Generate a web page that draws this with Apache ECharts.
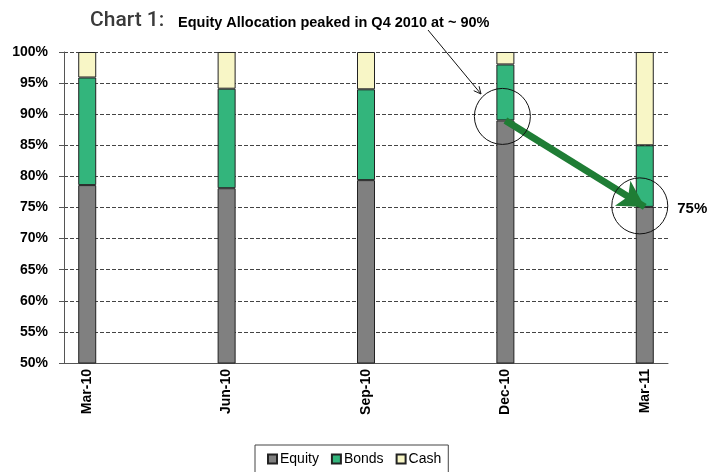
<!DOCTYPE html>
<html><head><meta charset="utf-8">
<script src="https://cdn.jsdelivr.net/npm/echarts@6/dist/echarts.min.js"></script>
<style>html,body{margin:0;padding:0;background:#fff}#c{width:707px;height:472px}</style>
</head><body><div id="c"></div>
<script>
const months = ['Mar-10','Apr-10','May-10','Jun-10','Jul-10','Aug-10','Sep-10','Oct-10','Nov-10','Dec-10','Jan-11','Feb-11','Mar-11'];
const quarters = ['Mar-10','Jun-10','Sep-10','Dec-10','Mar-11'];
const equity = [78.6, 78.1, 79.4, 89.0, 75.1];
const bonds = [17.3, 16.0, 14.6, 9.0, 9.9];
const cash = [4.1, 5.9, 6.0, 2.0, 15.0];
const yTicks = {min: 50, max: 100, step: 5};
const peak = ['Dec-10', 89.0];
const latest = ['Mar-11', 75.1];

function toSlots(vals) {
  return months.map(m => { const i = quarters.indexOf(m); return i < 0 ? '-' : vals[i]; });
}

const chart = echarts.init(document.getElementById('c'), null, {renderer: 'canvas'});
const FONT = 'Liberation Sans, Arial, sans-serif';
const barBorder = {borderColor: '#222', borderWidth: 1};

// thin annotation arrow (pixel annotation)
const a0 = [428, 30], a1 = [481, 94];
const dx = a1[0] - a0[0], dy = a1[1] - a0[1], L = Math.hypot(dx, dy);
const ux = dx / L, uy = dy / L, hl = 8, ang = 0.45;
function rot(x, y, t) { return [x * Math.cos(t) - y * Math.sin(t), x * Math.sin(t) + y * Math.cos(t)]; }
const h1 = rot(-ux * hl, -uy * hl, ang), h2 = rot(-ux * hl, -uy * hl, -ang);

chart.setOption({
  animation: false,
  grid: {left: 64, right: 39, top: 52, bottom: 109, containLabel: false},
  legend: {
    data: ['Equity', 'Bonds', 'Cash'],
    left: 255, top: 445,
    borderColor: '#444', borderWidth: 1, borderRadius: 0,
    padding: [7, 7, 8, 12],
    icon: 'rect', itemWidth: 9, itemHeight: 9, itemGap: 12,
    textStyle: {fontFamily: FONT, fontSize: 14, color: '#000', padding: [0, 0, 0, -2]}
  },
  xAxis: {
    type: 'category', data: months, boundaryGap: true,
    axisLine: {lineStyle: {color: '#555', width: 1}},
    axisTick: {interval: 2, length: 5, lineStyle: {color: '#555'}},
    axisLabel: {interval: 2, rotate: 90, margin: 6, fontFamily: FONT, fontWeight: 'bold', fontSize: 14, color: '#000'},
    splitLine: {show: false}
  },
  yAxis: {
    type: 'value', min: yTicks.min, max: yTicks.max, interval: yTicks.step,
    axisLine: {show: true, lineStyle: {color: '#555', width: 1}},
    axisTick: {show: true, length: 5, lineStyle: {color: '#555'}},
    axisLabel: {formatter: '{value}%', margin: 16, fontFamily: FONT, fontWeight: 'bold', fontSize: 14, color: '#000'},
    splitLine: {show: true, lineStyle: {color: '#444', type: [4, 2], width: 1}}
  },
  series: [
    {name: 'Equity', type: 'bar', stack: 'total', barWidth: 18, data: toSlots(equity),
     itemStyle: Object.assign({color: '#808080'}, barBorder)},
    {name: 'Bonds', type: 'bar', stack: 'total', barWidth: 18, data: toSlots(bonds),
     itemStyle: Object.assign({color: '#33b57c'}, barBorder)},
    {name: 'Cash', type: 'bar', stack: 'total', barWidth: 18, data: toSlots(cash),
     itemStyle: Object.assign({color: '#f8f6c6'}, barBorder),
     markLine: {
       silent: true, symbol: ['none', 'arrow'], symbolSize: [22, 26], precision: 2,
       label: {show: false},
       lineStyle: {color: '#1f7d35', width: 7, type: 'solid'},
       emphasis: {disabled: true},
       data: [[{coord: peak}, {coord: latest}]]
     },
     markPoint: {
       silent: true, symbol: 'circle', symbolSize: 56,
       itemStyle: {color: 'rgba(0,0,0,0)', borderColor: '#111', borderWidth: 1},
       label: {show: false},
       data: [
         {coord: peak, symbolOffset: [-3, -4]},
         {coord: latest, symbolOffset: [-5, -1],
          label: {show: true, position: 'right', distance: 9, offset: [0, 3], formatter: latest[1].toFixed(0) + '%',
                  fontFamily: FONT, fontWeight: 'bold', fontSize: 15, color: '#000'}}
       ]
     }
    }
  ],
  graphic: [
    {type: 'text', x: 90, y: 21, z: 100,
     style: {text: 'Chart 1:', font: '500 21px Roboto, Liberation Sans, sans-serif', fill: '#3a3a3a', textVerticalAlign: 'middle', verticalAlign: 'middle'}},
    {type: 'text', x: 178, y: 22.5, z: 100,
     style: {text: 'Equity Allocation peaked in Q4 2010 at ~ 90%', font: 'bold 14.5px Liberation Sans, Arial, sans-serif', fill: '#000', textVerticalAlign: 'middle', verticalAlign: 'middle'}},
    {type: 'line', shape: {x1: a0[0], y1: a0[1], x2: a1[0], y2: a1[1]}, style: {stroke: '#111', lineWidth: 1}, z: 100},
    {type: 'polyline', shape: {points: [[a1[0] + h1[0], a1[1] + h1[1]], a1, [a1[0] + h2[0], a1[1] + h2[1]]]}, style: {stroke: '#111', lineWidth: 1, fill: null}, z: 100}
  ]
});
</script></body></html>
